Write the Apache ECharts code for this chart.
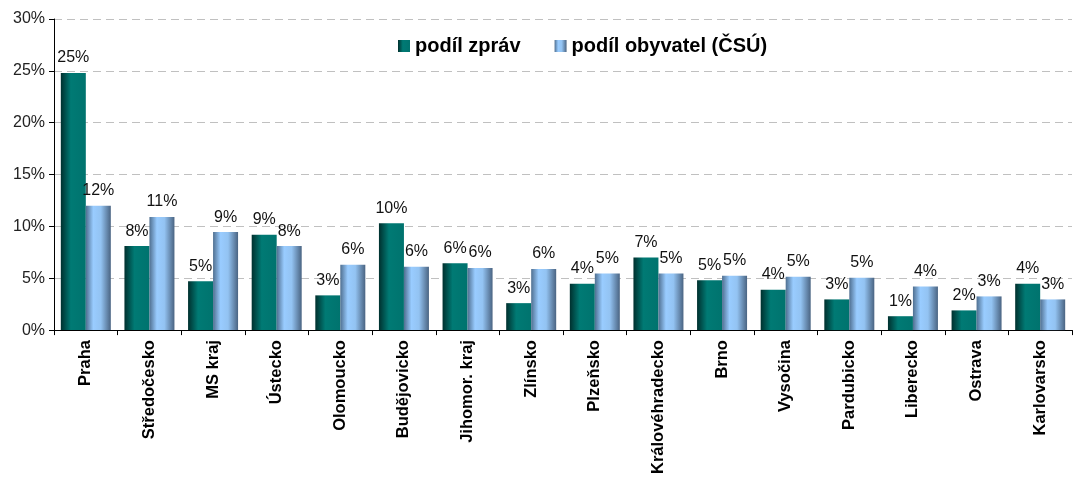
<!DOCTYPE html>
<html>
<head>
<meta charset="utf-8">
<script src="https://cdn.jsdelivr.net/npm/echarts@6/dist/echarts.min.js"></script>
<style>
  html, body { margin: 0; padding: 0; background: #fff; }
  #main { width: 1075px; height: 477px; }
</style>
</head>
<body>
<div id="main"></div>
<script>
// regions
const regions = ['Praha', 'Středočesko', 'MS kraj', 'Ústecko', 'Olomoucko', 'Budějovicko',
  'Jihomor. kraj', 'Zlínsko', 'Plzeňsko', 'Královéhradecko', 'Brno', 'Vysočina',
  'Pardubicko', 'Liberecko', 'Ostrava', 'Karlovarsko'];

// share of news (%)
const podilZprav = [24.8, 8.1, 4.7, 9.2, 3.35, 10.3, 6.45, 2.6, 4.48, 7.0, 4.8, 3.9, 2.96, 1.34, 1.9, 4.48];
// share of population (%)
const podilObyvatel = [12.0, 10.9, 9.45, 8.1, 6.3, 6.1, 6.0, 5.9, 5.45, 5.45, 5.25, 5.15, 5.06, 4.2, 3.25, 2.96];

const yTicks = [0, 5, 10, 15, 20, 25, 30];

const chart = echarts.init(document.getElementById('main'));

const greenFill = new echarts.graphic.LinearGradient(0, 0, 1, 0, [
  { offset: 0, color: '#00302e' },
  { offset: 0.4, color: '#007a74' },
  { offset: 1, color: '#00736e' }
]);
const blueFill = new echarts.graphic.LinearGradient(0, 0, 1, 0, [
  { offset: 0, color: '#4f6f90' },
  { offset: 0.3, color: '#99ccff' },
  { offset: 0.6, color: '#93c3f2' },
  { offset: 1, color: '#4a6482' }
]);

const labelOpt = {
  show: true,
  position: 'top',
  distance: 7,
  fontFamily: 'Liberation Sans',
  fontSize: 16,
  color: '#111',
  formatter: p => Math.round(p.value) + '%'
};

const option = {
  animation: false,
  textStyle: { fontFamily: 'Liberation Sans' },
  grid: { left: 54, right: 3, top: 19, bottom: 144, containLabel: false },
  legend: {
    left: 393,
    top: 31,
    itemWidth: 12,
    itemHeight: 12,
    itemGap: 34,
    icon: 'rect',
    textStyle: { fontFamily: 'Liberation Sans', fontSize: 20, fontWeight: 'bold', color: '#000' },
    data: ['podíl zpráv', 'podíl obyvatel (ČSÚ)']
  },
  xAxis: {
    type: 'category',
    data: regions,
    axisLine: { lineStyle: { color: '#000', width: 1 } },
    axisTick: { show: true, length: 5, lineStyle: { color: '#000' } },
    axisLabel: {
      rotate: 90,
      interval: 0,
      margin: 10,
      fontFamily: 'Liberation Sans',
      fontSize: 16.5,
      fontWeight: 'bold',
      color: '#000'
    }
  },
  yAxis: {
    type: 'value',
    min: yTicks[0],
    max: yTicks[yTicks.length - 1],
    interval: 5,
    axisLine: { show: true, lineStyle: { color: '#000', width: 1 } },
    axisTick: { show: true, length: 5, lineStyle: { color: '#000' } },
    axisLabel: {
      margin: 9,
      fontFamily: 'Liberation Sans',
      fontSize: 16,
      color: '#222',
      formatter: v => v + '%'
    },
    splitLine: { lineStyle: { color: '#c0c0c0', type: [8, 5] } }
  },
  series: [
    {
      name: 'podíl zpráv',
      type: 'bar',
      data: podilZprav,
      barWidth: 25,
      barGap: '0%',
      itemStyle: { color: greenFill },
      label: labelOpt
    },
    {
      name: 'podíl obyvatel (ČSÚ)',
      type: 'bar',
      data: podilObyvatel,
      barWidth: 25,
      itemStyle: { color: blueFill },
      label: labelOpt
    }
  ]
};

chart.setOption(option);
</script>
</body>
</html>
